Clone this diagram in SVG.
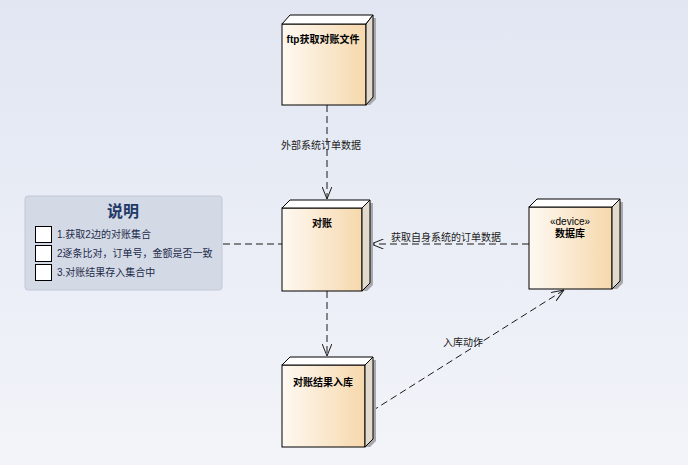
<svg xmlns="http://www.w3.org/2000/svg" width="688" height="465" viewBox="0 0 688 465">
<defs>
  <linearGradient id="bg" x1="0" y1="0" x2="0" y2="1">
    <stop offset="0" stop-color="#e1e6f2"/>
    <stop offset="1" stop-color="#f2f4f9"/>
  </linearGradient>
  <linearGradient id="front" x1="0" y1="0" x2="1" y2="0">
    <stop offset="0" stop-color="#fef9f2"/>
    <stop offset="1" stop-color="#f6d8ac"/>
  </linearGradient>
  <marker id="arr" viewBox="0 0 13 10" refX="12.5" refY="5" markerWidth="13" markerHeight="10" markerUnits="userSpaceOnUse" orient="auto">
    <path d="M0,0 L12.5,5 L0,10" fill="none" stroke="#1a1a1a" stroke-width="1"/>
  </marker>
</defs>
<style>
  text { font-family: "Liberation Sans", "Noto Sans CJK SC", sans-serif; }
  .front { fill: url(#front); stroke: #000; stroke-width: 1; }
  .top { fill: #ffffff; stroke: #000; stroke-width: 1; stroke-linejoin: round; }
  .side { fill: #e2dacd; stroke: #000; stroke-width: 1; stroke-linejoin: round; }
  .shadow { fill: #a9a9ad; }
  .nlabel { font-size: 10px; font-weight: bold; fill: #000; text-anchor: middle; }
  .stereo { font-size: 10px; fill: #000; text-anchor: middle; }
  .edge { fill: none; stroke: #1a1a1a; stroke-width: 1; stroke-dasharray: 7 4; }
  .elabel { font-size: 10px; fill: #1a1a1a; }
  .ltext { font-size: 10px; fill: #1c2b4a; }
  .cb { fill: #ffffff; stroke: #000; stroke-width: 1; }
</style>
<rect x="0" y="0" width="688" height="465" fill="url(#bg)"/>

<g id="connectors">
  <line class="edge" x1="327" y1="105" x2="327" y2="199" marker-end="url(#arr)"/>
  <line class="edge" x1="529" y1="244" x2="371" y2="244" marker-end="url(#arr)"/>
  <line class="edge" x1="327" y1="291" x2="327" y2="356" marker-end="url(#arr)"/>
  <line class="edge" x1="372" y1="411" x2="564" y2="290" marker-end="url(#arr)"/>
  <line class="edge" x1="223" y1="244" x2="282" y2="244"/>
  <text class="elabel" x="321" y="149" text-anchor="middle">外部系统订单数据</text>
  <text class="elabel" x="391" y="240.5">获取自身系统的订单数据</text>
  <text class="elabel" x="463" y="346" text-anchor="middle">入库动作</text>
</g>

<g id="node-ftp">
  <polygon class="shadow" points="373,18 376,18 376,99 370,105 366,105 373,97"/>
  <rect class="front" x="282" y="24" width="84" height="81"/>
  <polygon class="top" points="282,24 290,15 373,15 366,24"/>
  <polygon class="side" points="366,24 373,15 373,97 366,105"/>
  <text class="nlabel" x="323" y="43">ftp获取对账文件</text>
</g>

<g id="node-duizhang">
  <polygon class="shadow" points="370,203 373,203 373,285 367,291 362,291 370,283"/>
  <rect class="front" x="282" y="208" width="80" height="83"/>
  <polygon class="top" points="282,208 290,200 370,200 362,208"/>
  <polygon class="side" points="362,208 370,200 370,283 362,291"/>
  <text class="nlabel" x="322" y="227">对账</text>
</g>

<g id="node-db">
  <polygon class="shadow" points="620,202 623,202 623,283 617,289 612,289 620,281"/>
  <rect class="front" x="529" y="207" width="83" height="82"/>
  <polygon class="top" points="529,207 537,199 620,199 612,207"/>
  <polygon class="side" points="612,207 620,199 620,281 612,289"/>
  <text class="stereo" x="570" y="224.5">«device»</text>
  <text class="nlabel" x="570" y="237">数据库</text>
</g>

<g id="node-result">
  <polygon class="shadow" points="373,360 376,360 376,441 370,447 365,447 373,439"/>
  <rect class="front" x="282" y="365" width="83" height="82"/>
  <polygon class="top" points="282,365 290,357 373,357 365,365"/>
  <polygon class="side" points="365,365 373,357 373,439 365,447"/>
  <text class="nlabel" x="323" y="385.5">对账结果入库</text>
</g>

<g id="legend">
  <rect x="25" y="196" width="197" height="94" rx="3" fill="#d4d9e6" stroke="#c2c8d8" stroke-width="1"/>
  <text x="123" y="216.5" text-anchor="middle" font-size="16" font-weight="bold" fill="#1f3a68">说明</text>
  <rect class="cb" x="35.5" y="226.5" width="16" height="16"/>
  <rect class="cb" x="35.5" y="245.5" width="16" height="16"/>
  <rect class="cb" x="35.5" y="264.5" width="16" height="16"/>
  <text class="ltext" x="57" y="238">1.获取2边的对账集合</text>
  <text class="ltext" x="57" y="257">2逐条比对，订单号，金额是否一致</text>
  <text class="ltext" x="57" y="275.5">3.对账结果存入集合中</text>
</g>
</svg>
